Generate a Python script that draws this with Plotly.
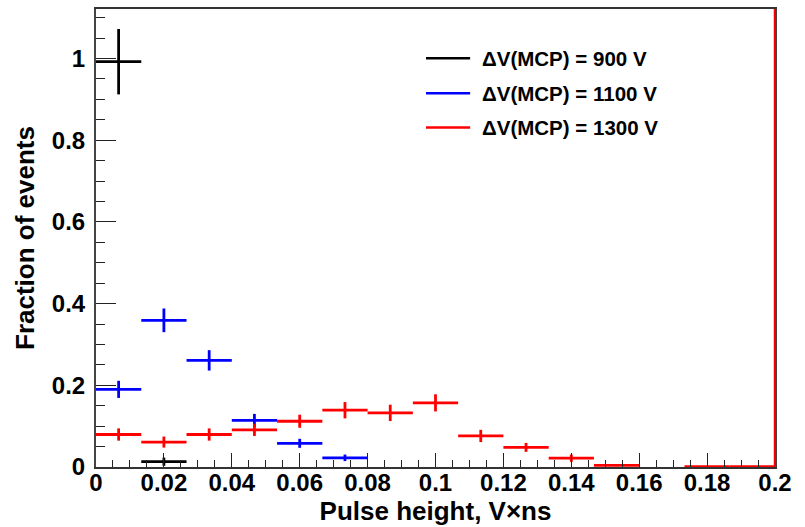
import numpy as np
import plotly.graph_objects as go

# ---- data ----
X_MIN, X_MAX, N_BINS = 0.0, 0.2, 15
BIN_EDGES = np.linspace(X_MIN, X_MAX, N_BINS + 1)

series_names = ["ΔV(MCP) = 900 V", "ΔV(MCP) = 1100 V", "ΔV(MCP) = 1300 V"]
series_colors = ["#000000", "#0000ff", "#ff0000"]

v900 = [0.992, 0.013, None, None, None, None, None, None, None, None, None, None, None, None, None]
e900 = [0.080, 0.010, 0, 0, 0, 0, 0, 0, 0, 0, 0, 0, 0, 0, 0]

v1100 = [0.190, 0.359, 0.261, 0.114, 0.058, 0.0225, None, None, None, None, None, None, None, None, None]
e1100 = [0.021, 0.029, 0.025, 0.016, 0.011, 0.008, 0, 0, 0, 0, 0, 0, 0, 0, 0]

v1300 = [0.0795, 0.061, 0.0795, 0.091, 0.112, 0.139, 0.1325, 0.157, 0.076, 0.048, 0.0215, 0.004, None, 0.001, 0.001]
e1300 = [0.015, 0.0135, 0.015, 0.015, 0.016, 0.020, 0.020, 0.021, 0.015, 0.011, 0.009, 0.002, 0, 0.0005, 0.0005]

x_title = "Pulse height, V×ns"
y_title = "Fraction of events"
Y_MAX = 1.121

# ---- figure ----
centers = 0.5 * (BIN_EDGES[:-1] + BIN_EDGES[1:])
half_w = 0.5 * np.diff(BIN_EDGES)

FONT = "Liberation Sans, Arial, sans-serif"
fig = go.Figure()
for name, col, vals, errs in zip(series_names, series_colors,
                                 [v900, v1100, v1300], [e900, e1100, e1300]):
    fig.add_trace(go.Scatter(
        x=centers, y=vals, mode="markers", name=name,
        marker=dict(size=0.1, color=col, opacity=0),
        error_x=dict(type="data", array=half_w, symmetric=True, width=0,
                     thickness=2.8, color=col),
        error_y=dict(type="data", array=errs, symmetric=True, width=0,
                     thickness=2.8, color=col),
        showlegend=False, hoverinfo="skip",
    ))

# right frame edge drawn in red (as in the original)
fig.add_shape(type="line", xref="x", yref="paper", x0=X_MAX, x1=X_MAX, y0=0, y1=1,
              line=dict(color="#ff0000", width=2.5))

# manual legend
leg_x0, leg_x1, leg_tx = 0.486, 0.551, 0.5655
leg_y = [0.8925, 0.816, 0.741]
for name, col, yy in zip(series_names, series_colors, leg_y):
    fig.add_shape(type="line", xref="paper", yref="paper", x0=leg_x0, x1=leg_x1,
                  y0=yy, y1=yy, line=dict(color=col, width=2.5))
    fig.add_annotation(xref="paper", yref="paper", x=leg_tx, y=yy, text=name,
                       showarrow=False, xanchor="left", yanchor="middle",
                       font=dict(family=FONT, size=20.5, color="black", weight="bold"))

fig.update_layout(
    width=805, height=527,
    margin=dict(l=96, r=30, t=9, b=59.5),
    paper_bgcolor="white", plot_bgcolor="white",
    font=dict(family=FONT, color="black"),
    showlegend=False,
)
fig.update_xaxes(
    range=[X_MIN, X_MAX], tick0=0, dtick=0.02, automargin=False,
    ticks="inside", ticklen=14, tickwidth=1.3, tickcolor="#222",
    minor=dict(ticks="inside", dtick=0.005, ticklen=7, tickwidth=1.3, tickcolor="#222"),
    showline=True, linecolor="#333", linewidth=2, mirror=True,
    showgrid=False, zeroline=False,
    ticklabelstandoff=-7,
    tickfont=dict(family=FONT, size=24, color="black", weight="bold"),
    title=dict(text=x_title, standoff=5,
               font=dict(family=FONT, size=26, color="black", weight="bold")),
)
fig.update_yaxes(
    range=[0, Y_MAX], tick0=0, dtick=0.2, automargin=False,
    ticks="inside", ticklen=20, tickwidth=1.3, tickcolor="#222",
    minor=dict(ticks="inside", dtick=0.05, ticklen=9, tickwidth=1.3, tickcolor="#222"),
    showline=True, linecolor="#444", linewidth=2, mirror=True,
    showgrid=False, zeroline=False,
    ticklabelstandoff=4,
    tickfont=dict(family=FONT, size=24, color="black", weight="bold"),
    title=dict(text=y_title, standoff=10,
               font=dict(family=FONT, size=26, color="black", weight="bold")),
)

fig.write_html("out.html", config={"displayModeBar": False},
               post_script="document.body.style.margin='0';document.body.style.overflow='hidden';")
